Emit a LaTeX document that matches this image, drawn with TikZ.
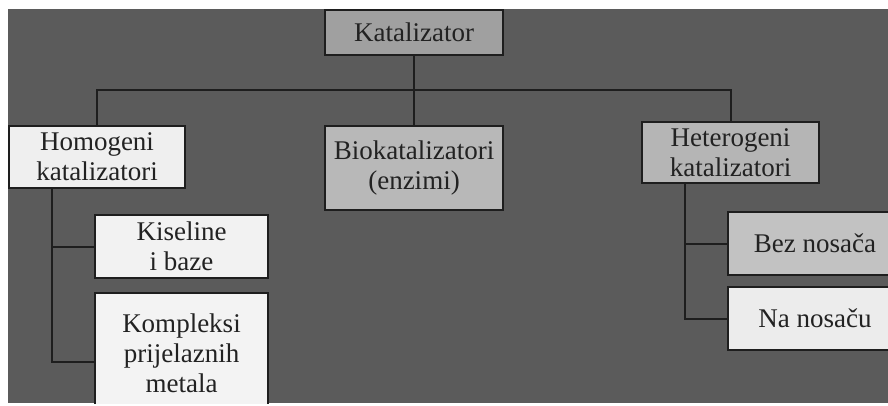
\documentclass[tikz,border=0pt]{standalone}
\usepackage{fontspec}
\setmainfont{Liberation Serif}
\definecolor{bgc}{HTML}{5B5B5B}
\definecolor{txt}{HTML}{222222}
\definecolor{lnc}{HTML}{1E1E1E}
\tikzset{
  box/.style={draw=lnc, line width=1.8pt, inner sep=0pt, align=center,
    text=txt, font=\fontsize{27}{30}\selectfont},
  conn/.style={draw=lnc, line width=2pt}
}
\begin{document}
\begin{tikzpicture}[x=1pt,y=-1pt]
\useasboundingbox (0,0) rectangle (888,405);
\fill[white] (0,0) rectangle (888,405);
\fill[bgc] (8,9) rectangle (888,403);
\begin{scope}
\clip (8,9) rectangle (888,403);
\node[box, fill={rgb,255:red,160;green,160;blue,160}, minimum width=178pt, minimum height=45pt] (kat) at (414,32.5) {Katalizator};
\node[box, fill={rgb,255:red,239;green,239;blue,239}, minimum width=176pt, minimum height=62pt] (hom) at (97,157) {Homogeni\\katalizatori};
\node[box, fill={rgb,255:red,184;green,184;blue,184}, minimum width=178pt, minimum height=84pt] (bio) at (414,168) {Biokatalizatori\\(enzimi)};
\node[box, fill={rgb,255:red,181;green,181;blue,181}, minimum width=177pt, minimum height=61pt] (het) at (730.5,152.5) {Heterogeni\\katalizatori};
\node[box, fill={rgb,255:red,242;green,242;blue,242}, minimum width=173pt, minimum height=63pt] (kis) at (181.5,246.5) {Kiseline\\i baze};
\node[box, fill={rgb,255:red,243;green,243;blue,243}, minimum width=173pt, minimum height=120pt] (kom) at (181.5,353) {Kompleksi\\prijelaznih\\metala};
\node[box, fill={rgb,255:red,194;green,194;blue,194}, minimum width=174pt, minimum height=63pt] (bez) at (815,243.5) {Bez nosača};
\node[box, fill={rgb,255:red,236;green,236;blue,236}, minimum width=174pt, minimum height=63pt] (na) at (815,318.5) {Na nosaču};

\coordinate (hy) at (0,90);
\coordinate (hb) at (52,0);
\coordinate (eb) at (685,0);
\coordinate (komy) at (0,362);

\draw[conn] (kat.south) -- (bio.north);
\draw[conn] (hom.north) -- (hom.north |- hy) -- (het.north |- hy) -- (het.north);
\draw[conn] (hom.south -| hb) |- (kis.west);
\draw[conn] (hom.south -| hb) |- (kom.west |- komy);
\draw[conn] (het.south -| eb) |- (bez.west);
\draw[conn] (het.south -| eb) |- (na.west);
\end{scope}
\end{tikzpicture}
\end{document}
